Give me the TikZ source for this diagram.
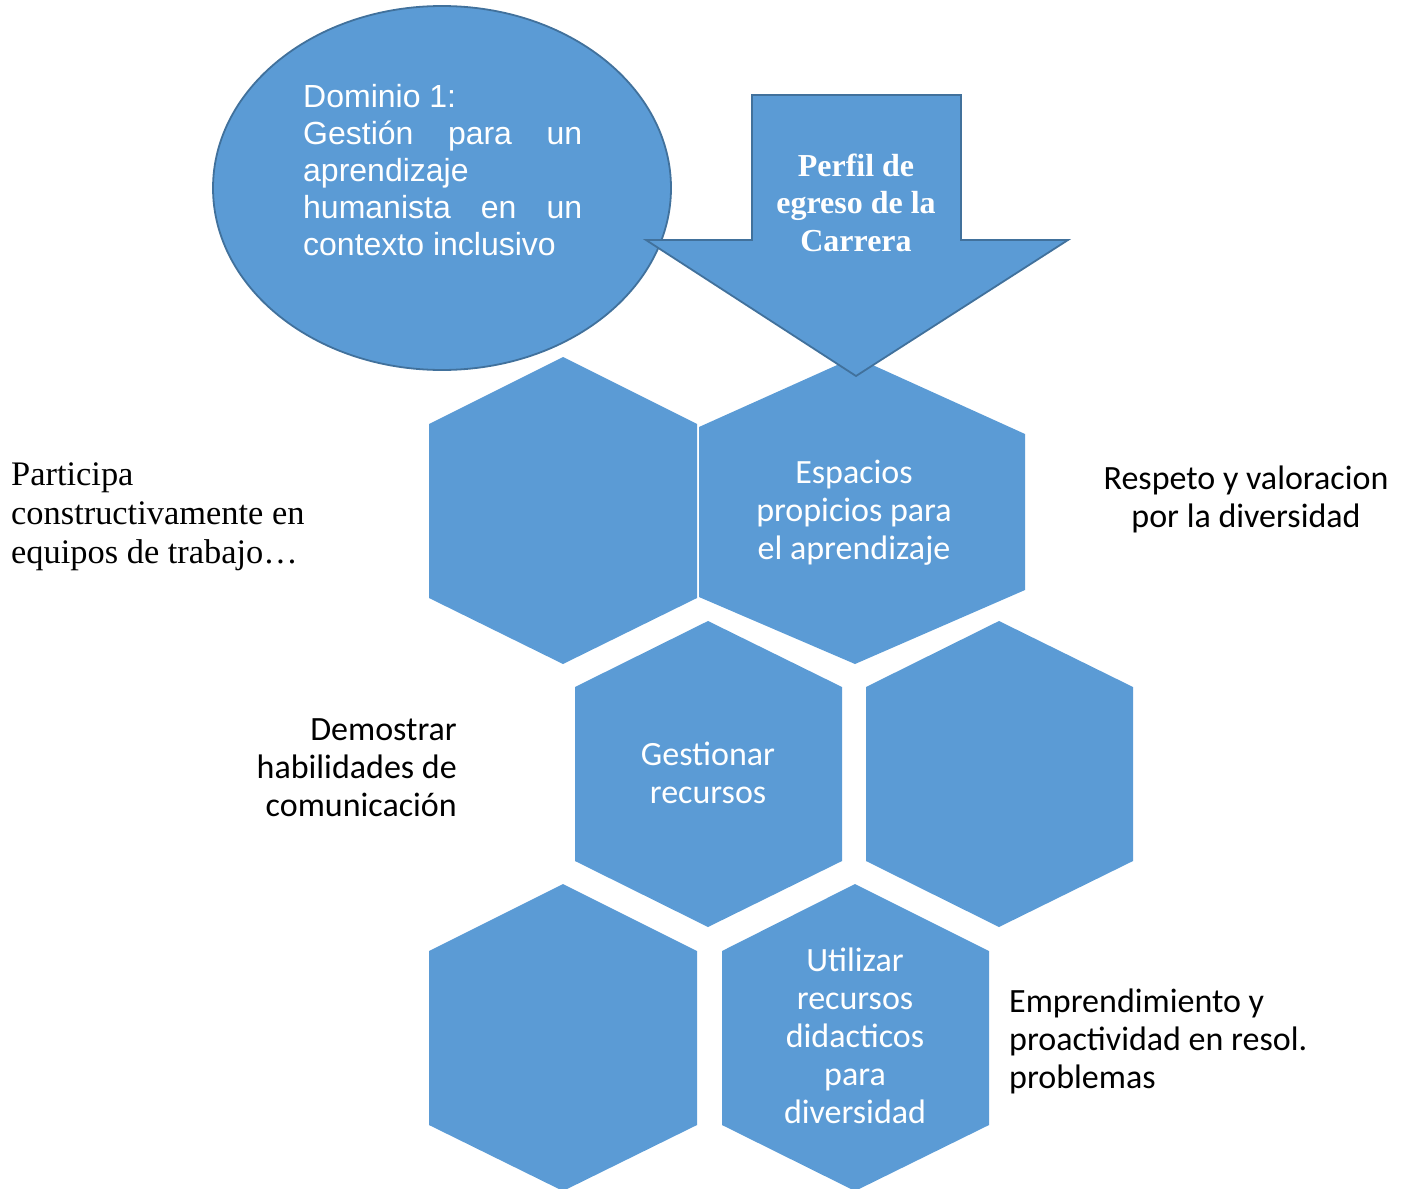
\documentclass[tikz,border=0pt]{standalone}
\usepackage{fontspec}
\setmainfont{Liberation Serif}
\newfontfamily\arialf{Liberation Sans}
\newfontfamily\calibrif{Carlito}
\usetikzlibrary{shapes.geometric}
\definecolor{hexblue}{HTML}{5B9BD5}
\definecolor{edgeblue}{HTML}{41719C}
\tikzset{
  hexshape/.style={fill=hexblue},
  outlined/.style={fill=hexblue, draw=edgeblue, line width=1.8pt, line join=miter},
  hextext/.style={inner sep=0pt, anchor=base, align=center, text=white, font=\calibrif\fontsize{34}{38}\selectfont},
  sidetext/.style={inner sep=0pt, text=black, font=\calibrif\fontsize{34}{38}\selectfont},
}
\begin{document}
\begin{tikzpicture}[x=1pt,y=-1pt]
\useasboundingbox (0,0) rectangle (1412,1188);
% hexagons
\fill[hexshape] (429,424) -- (563,357) -- (697,424) -- (697,598) -- (563,664) -- (429,598) -- cycle;
\fill[hexshape] (699,427) -- (855,357) -- (1025,434) -- (1025,590) -- (855,664) -- (699,597) -- cycle;
\fill[hexshape] (575,687) -- (708,621) -- (842,687) -- (842,861) -- (708,927) -- (575,861) -- cycle;
\fill[hexshape] (866,687) -- (999,621) -- (1133,687) -- (1133,861) -- (999,927) -- (866,861) -- cycle;
\fill[hexshape] (429,951) -- (563,884) -- (697,951) -- (697,1125) -- (563,1191) -- (429,1125) -- cycle;
\fill[hexshape] (722,951) -- (855,884) -- (989,951) -- (989,1125) -- (855,1191) -- (722,1125) -- cycle;
% ellipse
\node[ellipse, outlined, minimum width=458pt, minimum height=364pt, inner sep=0pt] (dom) at (442,188) {};
% arrow
\coordinate (a1) at (752,95);
\coordinate (a2) at (961,95);
\coordinate (a3) at (961,240);
\coordinate (a4) at (1068,240);
\coordinate (a5) at (856,376);
\coordinate (a6) at (646,240);
\coordinate (a7) at (752,240);
\draw[outlined] (a1) -- (a2) -- (a3) -- (a4) -- (a5) -- (a6) -- (a7) -- cycle;
% texts (base anchor = baseline of last line)
\node[inner sep=0pt, anchor=base west, align=left, text=white, font=\arialf\fontsize{32}{37}\selectfont] (domtxt) at (303,255)
  {Dominio 1:\\ \hbox to 279pt{Gestión\hfill para\hfill un}\\ aprendizaje\\ \hbox to 279pt{humanista\hfill en\hfill un}\\ contexto inclusivo};
\node[inner sep=0pt, anchor=base, align=center, text=white, font=\bfseries\fontsize{32}{37.5}\selectfont] (perfil) at (856,251)
  {Perfil de\\ egreso de la\\ Carrera};
\node[hextext] (esp) at (854,559) {Espacios\\ propicios para\\ el aprendizaje};
\node[hextext] (gest) at (708,803) {Gestionar\\ recursos};
\node[hextext] (util) at (855,1123) {Utilizar\\ recursos\\ didacticos\\ para\\ diversidad};
\node[inner sep=0pt, anchor=base west, align=left, font=\fontsize{34.4}{39}\selectfont] (part) at (11,563)
  {Participa\\ constructivamente en\\ equipos de trabajo…};
\node[sidetext, anchor=base east, align=right] (dem) at (457,816) {Demostrar\\ habilidades de\\ comunicación};
\node[sidetext, anchor=base, align=center] (resp) at (1246,527) {Respeto y valoracion\\ por la diversidad};
\node[sidetext, anchor=base west, align=left] (empr) at (1009,1088) {Emprendimiento y\\ proactividad en resol.\\ problemas};
\end{tikzpicture}
\end{document}
